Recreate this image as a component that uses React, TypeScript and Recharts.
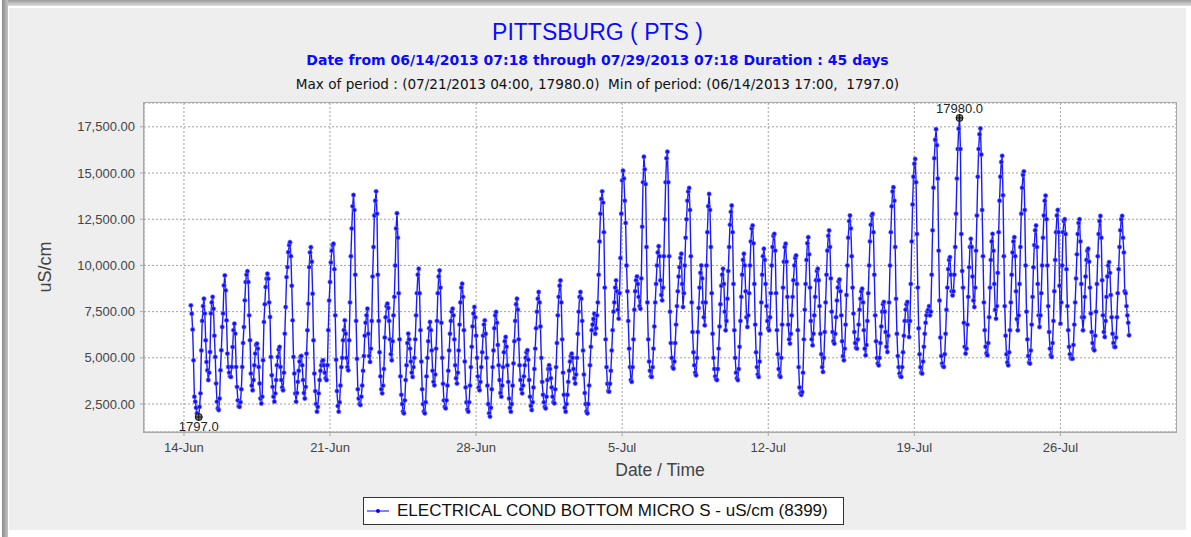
import React from 'react';
import { LineChart, Line, XAxis, YAxis, CartesianGrid, ReferenceDot } from 'recharts';

// hourly readings, first sample 06/14/2013 08:00
const week1 = [
  7840, 7390, 6530, 4870, 2900, 2630, 2300, 2000, 1850, 1797,
  2350, 3080, 5400, 7000, 7800, 8200, 7400, 5950, 4780, 4330, 3800,
  4200, 5320, 7400, 8000, 8300, 7660, 6200, 5050, 3615, 2630, 2270, 2180,
  2800, 4330, 5410, 6670, 7400, 8920, 9460, 8650, 7030, 5230, 4510, 4200, 4000, 3970,
  4510, 5590, 6500, 6850, 6310, 4510, 3430, 2700, 2380, 2350,
  2600, 3300, 4510, 5800, 6670, 8110, 9100, 9500, 9690, 9100, 7300, 5950, 4150, 3500, 3250,
  3800, 4600, 5230, 5700, 5770, 5500, 4510, 3615, 2800, 2530,
  2900, 4870, 6940, 7900, 8830, 9280, 9550, 9280, 8000, 7210, 5050, 4060, 3430, 2900, 2630,
  3080, 3800, 4600, 5050, 5450, 5590, 4510, 3800, 3400, 3250,
  4200, 6310, 7750, 9370, 9910, 10720, 11100, 11260, 10500, 8900, 7030, 5050, 4150, 3080, 2630,
  3100, 3700, 4300, 4800, 5050, 5100, 4600, 3800, 3100, 2800,
  3430, 5230, 6490, 7930, 9910, 10700, 10990, 10200, 8470, 5950, 4150, 3200, 2500, 2090,
  2350, 3080, 3800, 4300, 4600, 4800, 4870, 4600, 4200, 3900, 3800,
  4600, 6500, 8100, 9100, 10160, 10800, 11100, 11170, 9800, 7300, 4900,
];
const week2 = [
  3200, 2400, 2090, 2600, 3500, 4500, 5000, 5950, 6500, 7030, 6300, 5000, 4500, 4330,
  5950, 8000, 10500, 12000, 13200, 13810, 13000, 9500, 7000, 4950, 3300, 2800, 2500, 2450,
  2900, 3500, 4300, 5100, 6200, 6900, 7300, 7660, 6300, 5100, 4780,
  5500, 7000, 9400, 11000, 12700, 13500, 14010, 12800, 9500, 7000, 5300, 4000, 3300, 3080,
  3500, 4400, 6100, 7200, 7800, 7930, 7700, 7000, 6000, 5200, 4870,
  5900, 7300, 8300, 10000, 12000, 12820, 11500, 8500, 6000, 4000, 3000, 2500, 2100, 2000,
  2700, 3800, 4600, 5800, 6310, 6000, 5500, 4800, 4200, 3970,
  4500, 5000, 6000, 7300, 8500, 9500, 9820, 8500, 6500, 4800, 3300, 2500, 2100, 2000,
  2600, 4000, 5000, 5900, 6600, 6940, 6500, 5400, 4300, 3700, 3520,
  4100, 5500, 7000, 8500, 9400, 9730, 8800, 6900, 5000, 3600, 2700, 2350, 2270,
  2700, 3500, 4300, 5400, 6300, 7000, 7500, 7660, 7300, 6000, 4600, 3900, 3615,
  4200, 5400, 6800, 8000, 8800, 9010, 8300, 6500, 4800, 3400, 2600, 2200, 2090,
  2600, 3500, 4500, 5600, 6700, 7400, 7750, 7200, 6200, 5000, 4000, 3400, 3250,
  3700, 4500, 5300,
];
const week3 = [
  6200, 6800, 7030, 6300, 5000, 3500, 2500, 2000, 1820,
  2300, 3300, 4500, 5400, 6600, 7300, 7480, 6900, 5700, 4600, 3800, 3100, 2900,
  3500, 4500, 5300, 5900, 6130, 5600, 4600, 3700, 2800, 2300, 2090,
  2500, 3500, 4700, 5900, 7000, 7900, 8200, 7600, 6000, 4600, 3800, 3300, 3080,
  3500, 4000, 4600, 5000, 5300, 5410, 4900, 3800, 2900, 2400, 2180,
  2600, 3400, 4400, 5500, 6600, 7500, 8200, 8560, 8000, 6700, 5000, 3700, 3000, 2600, 2350, 2270,
  2900, 3800, 4400, 4600, 4400, 3900, 3400, 2900, 2600, 2540,
  3300, 4500, 5800, 7300, 8300, 8900, 9190, 8000, 6000, 4200, 3000, 2300, 2090,
  2500, 3000, 3700, 4300, 4800, 5100, 5230, 5000, 4400, 3900, 3615,
  4100, 5000, 6300, 7500, 8300, 8560, 8200, 7000, 5400, 4100, 3100, 2500, 2100, 2000,
  2500, 3500, 4600, 5600, 6500, 6800, 7100, 7390, 6300, 6600,
  7300, 8000, 9500, 11300, 12800, 13600, 14010, 13400, 11800, 8800, 6000, 4500, 3600, 3200, 3170,
  3600, 4300, 5400, 6500, 7500, 8000, 8800, 9190, 8600, 7600, 7120,
  8500, 10400, 12800, 14600, 15130, 14700, 13500, 12300, 10000, 8600, 7000,
];
const week4 = [
  5500, 4500, 3800, 3700, 4500, 6000, 7600, 8600, 9200, 9400, 9000, 8300, 7800, 7660,
  9300, 12100, 14500, 15880, 15200, 14400, 11000, 8000, 6000, 4800, 4300, 4000, 3970,
  4500, 5500, 6700, 8000, 9000, 10000, 10700, 11040, 10500, 9200, 8400, 8110,
  8800, 10500, 12500, 14500, 15800, 16150, 14500, 10500, 7500, 5800, 5000, 4500, 4420,
  4800, 5800, 6800, 7800, 8600, 9400, 9900, 10400, 10630, 9000, 7750,
  8500, 10000, 11500, 12500, 13500, 14000, 14190, 13000, 10500, 8000, 6400, 5300, 4600, 4200, 4060,
  5000, 6400, 7700, 8800, 9600, 10000, 9300, 8000, 7200, 6760,
  8000, 10000, 11800, 13200, 13870, 13000, 11000, 8500, 6300, 5000, 4400, 4000, 3850, 3800,
  4400, 5500, 6700, 7900, 8900, 9500, 9820, 9000, 7500, 6490,
  7000, 8200, 9700, 11000, 12200, 12900, 13240, 11800, 9000, 6500, 5000, 4200, 3900, 3800,
  4400, 5600, 7000, 8300, 9500, 10300, 10630, 10000, 8600, 7200, 6670,
  7300, 8500, 10000, 11300, 12000, 12160, 11200, 9000, 6800, 5300, 4500, 4100, 3970,
  4800, 6300, 8000, 9500, 10500, 10900, 10300, 9000, 7800, 7000, 6600, 6490,
  7200, 8500, 10000, 11000, 11600, 11710,
];
const week5 = [
  10800, 8500, 6500, 5200, 4400, 4050, 3970, 5000, 6800, 8800, 10200, 11000, 11170,
  10200, 8300, 6800, 6000, 5770, 6300, 7300, 8300, 9200, 10000, 10400, 10540,
  9000, 6500, 4500, 3400, 3080, 3000, 3150, 4200, 6000, 7600, 9000, 10300, 11200, 11530,
  10600, 8800, 7000, 6000, 5680, 6300, 7300, 8300, 9200, 9700, 9820,
  9200, 7800, 6300, 5200, 4500, 4240, 5000, 6400, 8000, 9500, 10800, 11600, 11890,
  11000, 9300, 7500, 6400, 5900, 5770, 6300, 7200, 8100, 8800, 9150, 9240,
  8600, 7300, 5900, 5100, 4870, 5500, 6800, 8400, 10000, 11500, 12400, 12700,
  12000, 10500, 8800, 7400, 6400, 5800, 5550, 5500, 6000, 6800, 7600, 8200, 8600, 8740,
  8000, 6500, 5500, 5140, 5700, 7000, 8500, 10000, 11300, 12200, 12700, 12790,
  11800, 9500, 7300, 5900, 5000, 4700, 4600, 5000, 5800, 6700, 7500, 7900, 8020,
  7500, 6400, 5600, 5320, 6200, 8000, 10000, 11800, 13200, 14000, 14230,
  13500, 11000, 8200, 6300, 5100, 4500, 4150, 4000, 3970, 4500, 5300, 6200, 7000, 7600, 7900, 8020,
  7000, 6130, 7000, 9000, 11300, 13300, 14800, 15500, 15760,
  14500, 11700, 8800, 6600, 5200, 4500,
];
const week6 = [
  4200, 4150, 4800, 5600, 6300, 6900, 7300, 7500, 7600, 7800, 7300, 7500,
  9500, 11900, 14200, 15800, 16800, 17370, 16500, 14700, 10800, 8100, 6100, 5100, 4700, 4550, 4510,
  5200, 6300, 7600, 8800, 9800, 10300, 10450, 9500, 8600, 8380,
  8600, 9500, 11000, 12800, 14700, 16300, 17400, 17980, 16300, 11700, 9700, 8800, 6900, 5600, 5230,
  5500, 6800, 8300, 9900, 11000, 11440, 11000, 9400, 8100, 7750,
  8800, 10800, 12700, 14800, 16300, 17100, 17410, 16000, 13000, 10500, 8000, 6500, 5600, 5250, 5140,
  5800, 7200, 8800, 10300, 11300, 11710, 10800, 9000, 7600, 7120,
  7800, 9600, 11800, 13500, 14800, 15600, 15930, 13800, 10500, 7800, 6200, 5200, 4750, 4600,
  5300, 6500, 8000, 9500, 10700, 11300, 11530, 10500, 8600, 7100, 6490,
  7300, 9000, 11000, 12800, 14200, 14900, 15090, 13000, 10000, 7500, 6000, 5100, 4750, 4690,
  5400, 6800, 8300, 9900, 11100, 11900, 12160, 11000, 9000, 7300, 6670,
  7300, 8500, 10000, 11500, 12700, 13500, 13780, 12500, 10000, 7800, 6400, 5500, 5150, 5050,
  5800, 7000, 8600, 10300, 11800, 12700, 13000, 11800, 8900, 6850,
  8000, 10000, 11800, 12400, 12500, 11700, 9800,
];
const week7 = [
  7800, 6500, 5600, 5200, 5000, 4950, 4960, 5700, 6800, 8000, 9300, 10600, 11700, 12300, 12500,
  11300, 9000, 7200, 6490, 7200, 8300, 9400, 10300, 10800, 10900,
  10200, 8800, 7400, 6400, 5800, 5500, 5410, 6200, 7500, 9000, 10500, 11700, 12400, 12680,
  11500, 9200, 7300, 6400, 6130, 7000, 8300, 9400, 10000, 10180,
  9600, 8400, 7200, 6300, 5800, 5600, 5590, 6100, 7200, 8500, 9800, 11000, 11900, 12500, 12680,
  11500, 10700, 8600, 8500, 7800, 7300, 6900, 6220,
];

const tickDates = ['2013-06-14', '2013-06-21', '2013-06-28', '2013-07-05', '2013-07-12', '2013-07-19', '2013-07-26'];
const yTicks = [2500, 5000, 7500, 10000, 12500, 15000, 17500];
const MONTHS = ['Jan', 'Feb', 'Mar', 'Apr', 'May', 'Jun', 'Jul', 'Aug', 'Sep', 'Oct', 'Nov', 'Dec'];

const START = Date.UTC(2013, 5, 14, 8);
const HOUR = 3600 * 1000;
const FONT = '"Liberation Sans", Arial, sans-serif';
const WIDE = '"DejaVu Sans", Verdana, sans-serif';

const values = [...week1, ...week2, ...week3, ...week4, ...week5, ...week6, ...week7];
const data = values.map((v, i) => ({ t: START + i * HOUR, v }));

const xTicks = tickDates.map((d) => Date.parse(d + 'T00:00:00Z'));
const fmtDate = (t: number) => {
  const d = new Date(t);
  return `${d.getUTCDate()}-${MONTHS[d.getUTCMonth()]}`;
};
const fmtNum = (v: number) => v.toLocaleString('en-US', { minimumFractionDigits: 2, maximumFractionDigits: 2 });

const minIdx = values.indexOf(Math.min(...values));
const maxIdx = values.indexOf(Math.max(...values));
const tFirst = data[0].t;
const tLast = data[data.length - 1].t;
const xPad = (tLast - tFirst) * 0.05;
const vMin = values[minIdx];
const vMax = values[maxIdx];
const yPad = (vMax - vMin) * 0.05;

const Marker = (props: any) => {
  const { cx, cy } = props;
  return (
    <g>
      <circle cx={cx} cy={cy} r={3.5} fill="#777" stroke="#111" strokeWidth={1} />
      <line x1={cx - 3.5} x2={cx + 3.5} y1={cy} y2={cy} stroke="#111" strokeWidth={1} />
      <line x1={cx} x2={cx} y1={cy - 3.5} y2={cy + 3.5} stroke="#111" strokeWidth={1} />
    </g>
  );
};

const App = () => {
  return (
    <div style={{ position: 'absolute', left: 0, top: 0, width: 1191, height: 537, background: '#fff', fontFamily: FONT, overflow: 'hidden' }}>
      {/* frame */}
      <div style={{ position: 'absolute', left: 2, top: 0, width: 6, height: 537, background: 'linear-gradient(to right, #8a8a8a, #c4c4c4)' }} />
      <div style={{ position: 'absolute', left: 8, top: 0, width: 1183, height: 6, background: 'linear-gradient(to bottom, #9a9a9a, #dedede)' }} />
      <div style={{ position: 'absolute', left: 9, top: 8, width: 1177, height: 522, background: '#eeeeee' }} />

      <div style={{ position: 'absolute', left: 9, width: 1177, top: 19, textAlign: 'center', color: '#0a0aff', fontSize: 23, lineHeight: '27px' }}>
        PITTSBURG ( PTS )
      </div>
      <div style={{ position: 'absolute', left: 9, width: 1177, top: 52, textAlign: 'center', color: '#0a0aff', fontSize: 14, fontWeight: 'bold', lineHeight: '16px', fontFamily: WIDE }}>
        Date from 06/14/2013 07:18 through 07/29/2013 07:18 Duration : 45 days
      </div>
      <div style={{ position: 'absolute', left: 9, width: 1177, top: 76, textAlign: 'center', color: '#111', fontSize: 13.6, lineHeight: '16px', whiteSpace: 'pre', fontFamily: WIDE }}>
        {'Max of period : (07/21/2013 04:00, 17980.0)  Min of period: (06/14/2013 17:00,  1797.0)'}
      </div>

      <div style={{ position: 'absolute', left: 0, top: 0 }}>
        <LineChart width={1191} height={537} data={data} margin={{ top: 103, right: 15, bottom: 75, left: 44 }}>
          <CartesianGrid fill="#ffffff" fillOpacity={1} stroke="#a0a0a0" strokeDasharray="2 2" />
          <XAxis
            type="number"
            dataKey="t"
            domain={[tFirst - xPad, tLast + xPad]}
            ticks={xTicks}
            tickFormatter={fmtDate}
            height={30}
            tickSize={4}
            tickMargin={7}
            stroke="#a8a8a8"
            tick={{ fontSize: 13, fill: '#444', fontFamily: FONT }}
            allowDataOverflow
          />
          <YAxis
            type="number"
            dataKey="v"
            domain={[vMin - yPad, vMax + yPad]}
            ticks={yTicks}
            tickFormatter={fmtNum}
            width={100}
            tickSize={4}
            tickMargin={5}
            stroke="#a8a8a8"
            tick={{ fontSize: 13, fill: '#444', fontFamily: FONT }}
            allowDataOverflow
          />
          <Line
            type="linear"
            dataKey="v"
            stroke="#1a1aff"
            strokeWidth={1.4}
            dot={{ r: 2.2, fill: '#1010ff', stroke: '#8080ff', strokeWidth: 0.6 }}
            activeDot={false}
            isAnimationActive={false}
          />
          <ReferenceDot
            x={data[minIdx].t}
            y={vMin}
            r={4}
            shape={Marker}
            label={{ value: vMin.toFixed(1), position: 'bottom', offset: 1, fontSize: 13, fill: '#222', fontFamily: FONT }}
          />
          <ReferenceDot
            x={data[maxIdx].t}
            y={vMax}
            r={4}
            shape={Marker}
            label={{ value: vMax.toFixed(1), position: 'top', offset: 1, fontSize: 13, fill: '#222', fontFamily: FONT }}
          />
        </LineChart>
      </div>

      {/* plot outline */}
      <div style={{ position: 'absolute', left: 143, top: 102, width: 1032, height: 329, border: '1px solid #aaaaaa', pointerEvents: 'none' }} />

      <div style={{ position: 'absolute', left: 5, top: 267, width: 80, transform: 'translate(0, -50%) rotate(-90deg)', transformOrigin: 'center', textAlign: 'center', fontSize: 18, color: '#444', lineHeight: '20px' }}>
        uS/cm
      </div>
      <div style={{ position: 'absolute', left: 560, width: 200, top: 460, textAlign: 'center', fontSize: 17.5, color: '#444', lineHeight: '20px' }}>
        Date / Time
      </div>

      <div style={{ position: 'absolute', left: 363, top: 497, width: 479, height: 26, border: '1px solid #333', background: '#fff', display: 'flex', alignItems: 'center' }}>
        <svg width={30} height={10} style={{ marginLeft: 3 }}>
          <line x1={0} x2={22} y1={5} y2={5} stroke="#0000ff" strokeWidth={1} />
          <circle cx={11} cy={5} r={2} fill="#0000ff" />
        </svg>
        <span style={{ fontSize: 17, color: '#111' }}>ELECTRICAL COND BOTTOM MICRO S - uS/cm (8399)</span>
      </div>
    </div>
  );
};

export default App;
